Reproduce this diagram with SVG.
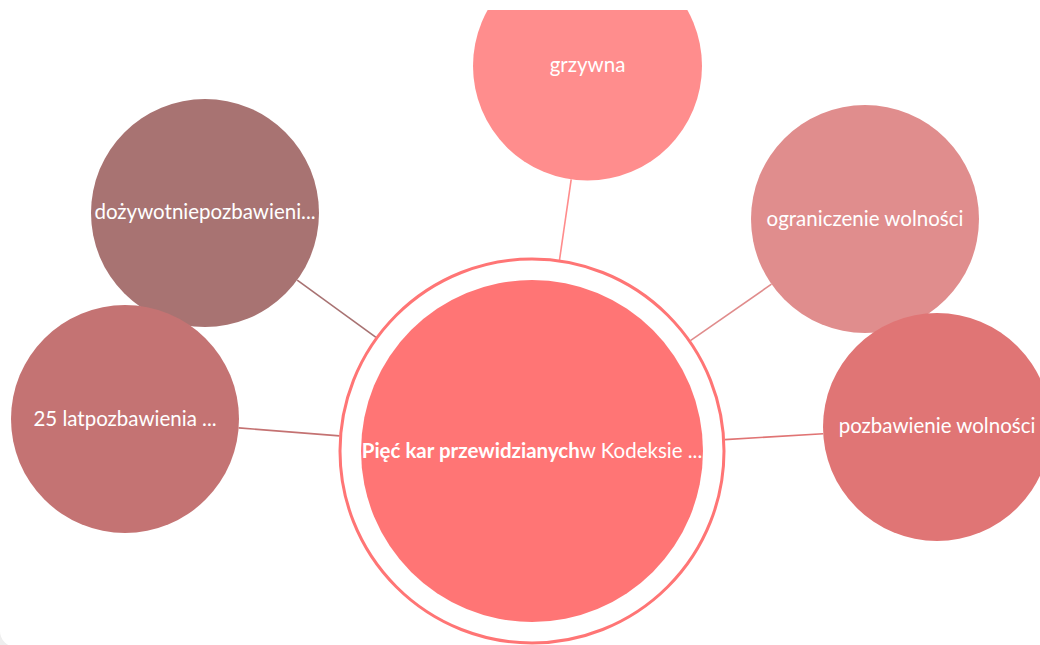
<svg xmlns="http://www.w3.org/2000/svg" width="1040" height="645" viewBox="0 0 1040 645">
<style>
.lbl{font-family:Lato,"Noto Sans","Liberation Sans",sans-serif;font-size:20.5px;fill:#ffffff;text-anchor:middle}
.b{font-weight:bold}
.ln{stroke-width:1.6;fill:none}
</style>
<defs>
<clipPath id="clip"><rect x="0" y="10" width="1040" height="635"/></clipPath>
</defs>
<rect x="0" y="0" width="1040" height="645" fill="#eeeeee"/>
<rect x="0" y="-30" width="1070" height="677" rx="16" fill="#ffffff"/>
<g clip-path="url(#clip)">
<g id="connectors">
<line class="ln" x1="559.5" y1="260" x2="571.2" y2="179.3" stroke="#ff8c8c"/>
<line class="ln" x1="376" y1="337.4" x2="297.2" y2="280.1" stroke="#a87272"/>
<line class="ln" x1="339.6" y1="435.9" x2="238.6" y2="427.9" stroke="#c47272"/>
<line class="ln" x1="690.4" y1="340.7" x2="771.5" y2="284.2" stroke="#e08c8c"/>
<line class="ln" x1="724.7" y1="439.6" x2="823.2" y2="433.7" stroke="#e07474"/>
</g>
<g id="center">
<circle cx="532" cy="451" r="192" fill="none" stroke="#ff7575" stroke-width="3"/>
<circle cx="532" cy="451" r="171" fill="#ff7575"/>
<text class="lbl" x="532" y="458"><tspan class="b">Pięć kar przewidzianych</tspan>w Kodeksie ...</text>
</g>
<g id="grzywna">
<circle cx="587.5" cy="66" r="114.5" fill="#ff8d8d"/>
<text class="lbl" x="587.5" y="72">grzywna</text>
</g>
<g id="dozywotnie">
<circle cx="205" cy="213" r="114" fill="#a87372"/>
<text class="lbl" x="205" y="219">dożywotniepozbawieni...</text>
</g>
<g id="lat25">
<circle cx="125" cy="419" r="114" fill="#c47373"/>
<text class="lbl" x="125" y="426">25 latpozbawienia ...</text>
</g>
<g id="ograniczenie">
<circle cx="865" cy="219" r="114" fill="#e08d8d"/>
<text class="lbl" x="865" y="226">ograniczenie wolności</text>
</g>
<g id="pozbawienie">
<circle cx="937" cy="427" r="114" fill="#e07575"/>
<text class="lbl" x="937" y="433">pozbawienie wolności</text>
</g>
</g>
</svg>
